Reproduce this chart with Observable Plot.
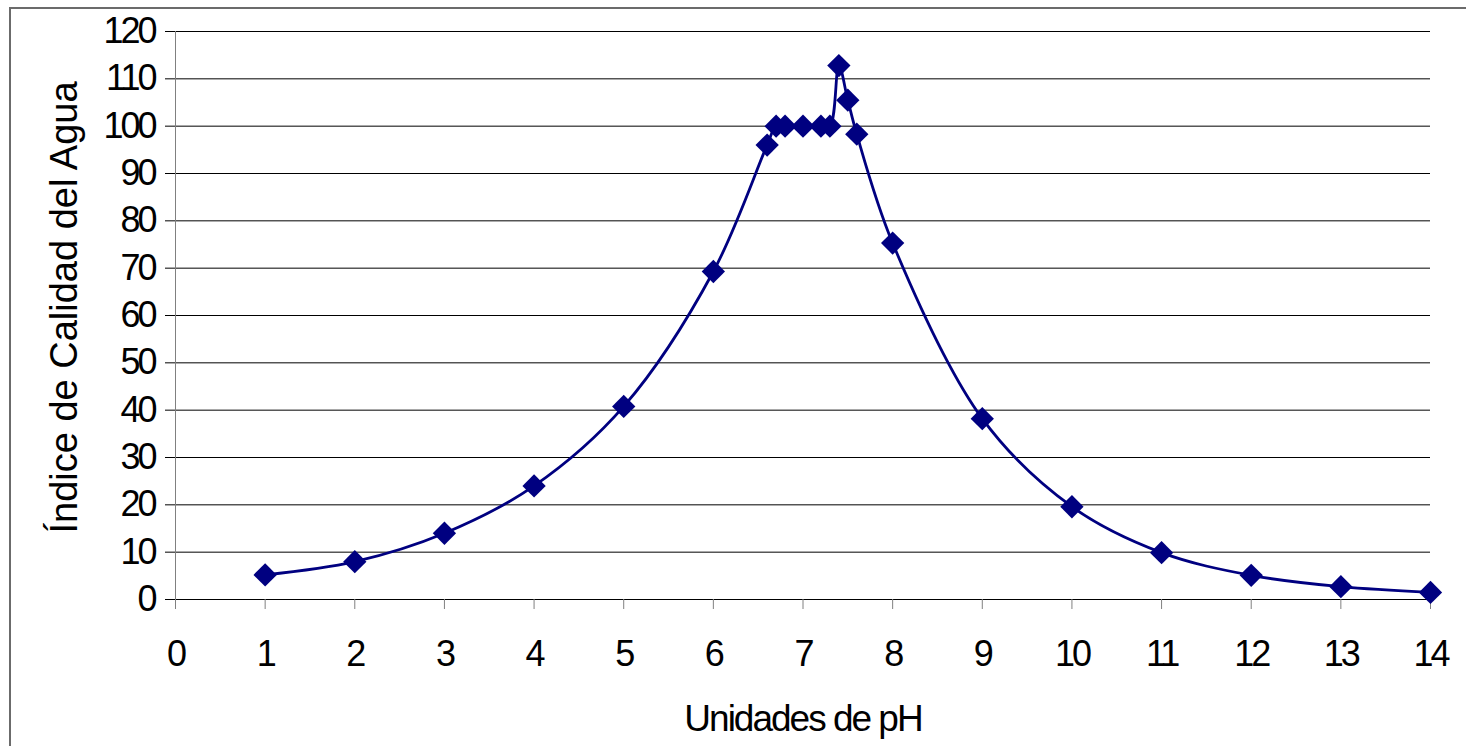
<!DOCTYPE html>
<html>
<head>
<meta charset="utf-8">
<script src="https://cdn.jsdelivr.net/npm/d3@7"></script>
<script src="https://cdn.jsdelivr.net/npm/@observablehq/plot@0.6"></script>
<style>
  html, body { margin: 0; padding: 0; background: #fff; }
  #wrap { position: relative; width: 1466px; height: 746px; overflow: hidden; }
  #border { position: absolute; left: 9px; top: 7px; width: 1500px; height: 800px;
            border-left: 2px solid #6b6b6b; border-top: 2px solid #6b6b6b; box-sizing: border-box; }
  #chart { position: absolute; left: 0; top: 0; }
</style>
</head>
<body>
<div id="wrap"><div id="border"></div><div id="chart"></div></div>
<script>
const ph      = [1, 2, 3, 4, 5, 6, 6.6, 6.7, 6.8, 7, 7.2, 7.3, 7.4, 7.5, 7.6, 8, 9, 10, 11, 12, 13, 14];
const quality = [5.2, 8, 14, 24, 40.8, 69.3, 96, 100, 100, 100, 100, 100, 112.8, 105.5, 98.3, 75.3, 38.2, 19.6, 9.9, 5.1, 2.7, 1.5];
const xTicks = [0, 1, 2, 3, 4, 5, 6, 7, 8, 9, 10, 11, 12, 13, 14];
const yTicks = [0, 10, 20, 30, 40, 50, 60, 70, 80, 90, 100, 110, 120];
const xLabel = "Unidades de pH";
const yLabel = "Índice de Calidad del Agua";

const data = ph.map((x, i) => ({x, y: quality[i]}));
const font = "'Liberation Sans', Arial, sans-serif";

const plot = Plot.plot({
  width: 1466,
  height: 746,
  marginLeft: 175,
  marginRight: 36,
  marginTop: 31,
  marginBottom: 147,
  style: {fontFamily: font, fontSize: "36px", background: "transparent", overflow: "visible"},
  x: {domain: [0, 14]},
  y: {domain: [0, 120]},
  marks: [
    Plot.ruleY(yTicks, {stroke: "#000", strokeWidth: 1}),
    Plot.ruleX([0], {stroke: "#808080", strokeWidth: 1}),
    Plot.axisY(yTicks, {tickSize: 10, tickPadding: 11, stroke: "#000", label: null, fontSize: 36}),
    Plot.axisX(xTicks, {tickSize: 10, tickPadding: 31, stroke: "#808080", label: null, fontSize: 36}),
    Plot.line(data, {x: "x", y: "y", curve: "catmull-rom", stroke: "#000080", strokeWidth: 2.8}),
    Plot.dot(data, {x: "x", y: "y", symbol: "diamond2", r: 10.5, fill: "#000080", stroke: "none"}),
    Plot.text([xLabel], {frameAnchor: "bottom", textAnchor: "middle", lineAnchor: "middle", dy: 120, fontSize: 37, fill: "#000", className: "xlab"}),
    Plot.text([yLabel], {frameAnchor: "left", textAnchor: "middle", lineAnchor: "middle", rotate: -90, dx: -111, dy: -8, fontSize: 38, fill: "#000", className: "ylab"})
  ]
});
document.getElementById("chart").appendChild(plot);
d3.select(plot).selectAll("g[aria-label='x-axis tick label'] text, g[aria-label='y-axis tick label'] text")
  .style("letter-spacing", "-3px");
d3.select(plot).selectAll(".xlab text").style("letter-spacing", "-2px");
</script>
</body>
</html>
